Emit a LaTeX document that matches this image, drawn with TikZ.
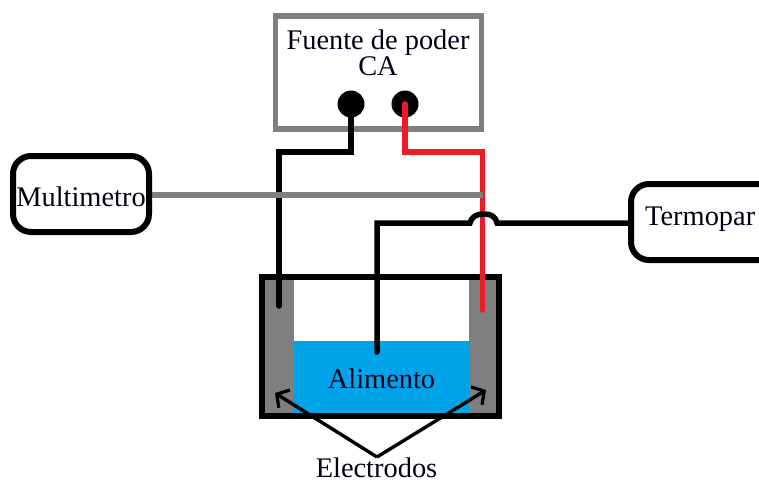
\documentclass[tikz,border=0pt]{standalone}
\usepackage{fontspec}
\setmainfont{Liberation Serif}
\definecolor{wgray}{HTML}{7F7F7F}
\definecolor{wred}{HTML}{ED1C24}
\definecolor{wblue}{HTML}{00A2E8}
\tikzset{
  x=1pt,y=-1pt,
  lbl/.style={font=\fontsize{28.4}{30}\selectfont,inner sep=0pt,align=center,text=black!90!blue},
  roundbox/.style={draw=black,line width=6pt,rounded corners=18pt,fill=white,inner sep=0pt,outer sep=0pt,anchor=north west},
  plainbox/.style={inner sep=0pt,outer sep=0pt,anchor=north west},
  wire/.style={line width=5.5pt,draw=black,line join=miter},
  redwire/.style={line width=5.5pt,draw=wred},
  graywire/.style={line width=6pt,draw=wgray},
  pointer/.style={line width=3.4pt,draw=black,-{Straight Barb[length=9pt,width=21pt,line width=3.2pt]}},
  terminal/.style={circle,fill=black,minimum size=27pt,inner sep=0pt,outer sep=0pt},
}
\usetikzlibrary{arrows.meta}
\begin{document}
\begin{tikzpicture}
\useasboundingbox (0,0) rectangle (759,483);
% food and electrodes
\node[plainbox,fill=wblue,minimum width=177pt,minimum height=73pt] (food) at (293,341) {};
\node[plainbox,fill=wgray,minimum width=29pt,minimum height=136pt] (elecL) at (265,279) {};
\node[plainbox,fill=wgray,minimum width=29pt,minimum height=136pt] (elecR) at (469,279) {};
\node[plainbox,draw=black,line width=6pt,minimum width=237pt,minimum height=139pt] (tank) at (262,277) {};
\node[lbl] (alimento) at (381.5,379) {Alimento};
% power source
\node[plainbox,draw=wgray,line width=5.5pt,minimum width=206pt,minimum height=113pt] (fuente) at (275.5,16) {};
\node[lbl] (fuentetxt) at (378,53) {Fuente de poder\\[-4pt]CA};
\node[terminal] (t1) at (351,104) {};
\node[terminal] (t2) at (405,104) {};
% wire end points
\coordinate (bEnd) at (279,306);
\coordinate (rEnd) at (482.5,310);
\coordinate (gEnd) at (482.5,195);
\coordinate (tEnd) at (377,352);
\coordinate (mAnchor) at (149,195);
\coordinate (tAnchor) at (631,223);
% wires
\draw[wire,line cap=round] (bEnd) -- (279,152) -- (351,152) -- (t1.center);
\draw[redwire,line cap=round] (rEnd) -- (482.5,152) -- (405,152) -- (t2.center);
\draw[graywire] (mAnchor) -- (gEnd);
\draw[wire,line cap=round] (tEnd) -- (377,223) -- (470,223)
  .. controls (472,216) and (477,214) .. (484,214)
  .. controls (491,214) and (495,216) .. (497,223) -- (tAnchor);
% boxes
\node[roundbox,minimum width=136pt,minimum height=76pt] (multi) at (13,156) {};
\node[lbl] (multitxt) at (81,197) {Multimetro};
\begin{scope}
\clip (600,170) rectangle (759,280);
\node[roundbox,minimum width=160pt,minimum height=76pt] (termo) at (631,184) {};
\end{scope}
\node[lbl,anchor=west] (termotxt) at (645,219) {Termopar};
% pointers
\coordinate (apex) at (377,457);
\coordinate (tipL) at (275,393);
\coordinate (tipR) at (486,390);
\draw[pointer] (apex) -- (tipL);
\draw[pointer] (apex) -- (tipR);
\node[lbl] (electrodos) at (376.5,468) {Electrodos};
\end{tikzpicture}
\end{document}
